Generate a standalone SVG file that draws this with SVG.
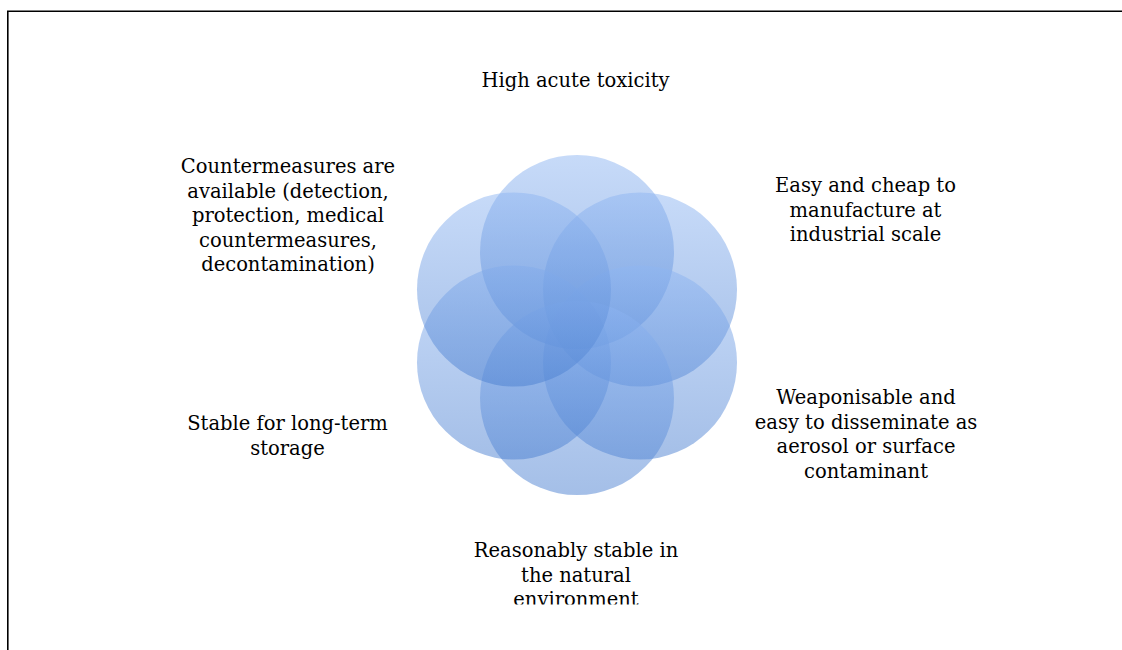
<svg xmlns="http://www.w3.org/2000/svg" width="1122" height="650" viewBox="0 0 1122 650">
  <defs>
    <linearGradient id="cg" x1="0" y1="0" x2="0" y2="1">
      <stop offset="0" stop-color="#8fb6f2"/>
      <stop offset="1" stop-color="#4a7fd0"/>
    </linearGradient>
    <clipPath id="clipBottom">
      <rect x="0" y="0" width="1122" height="604.5"/>
    </clipPath>
  </defs>
  <style>
    .c { fill: url(#cg); fill-opacity: 0.5; }
    .t { font-family: "DejaVu Serif", "Liberation Serif", serif; font-size: 19.5px; fill: #000; text-anchor: middle; }
    .frame { fill: none; stroke: #000; stroke-width: 1.6; }
  </style>
  <rect x="0" y="0" width="1122" height="650" fill="#fff"/>
  <path class="frame" d="M7.8,650 V11.2 H1122"/>

  <g id="circles">
    <g id="circle-top"><circle class="c" cx="577" cy="252" r="97"/></g>
    <g id="circle-upper-right"><circle class="c" cx="640" cy="289.5" r="97"/></g>
    <g id="circle-lower-right"><circle class="c" cx="640" cy="362.5" r="97"/></g>
    <g id="circle-bottom"><circle class="c" cx="577" cy="398" r="97"/></g>
    <g id="circle-lower-left"><circle class="c" cx="514" cy="362.5" r="97"/></g>
    <g id="circle-upper-left"><circle class="c" cx="514" cy="289.5" r="97"/></g>
  </g>

  <g id="connectors"/>

  <g id="label-top">
    <text class="t" x="575.5" y="87">High acute toxicity</text>
  </g>
  <g id="label-upper-right">
    <text class="t" x="865.5" y="192">Easy and cheap to</text>
    <text class="t" x="865.5" y="216.5">manufacture at</text>
    <text class="t" x="865.5" y="241">industrial scale</text>
  </g>
  <g id="label-lower-right">
    <text class="t" x="866" y="404">Weaponisable and</text>
    <text class="t" x="866" y="428.5">easy to disseminate as</text>
    <text class="t" x="866" y="453">aerosol or surface</text>
    <text class="t" x="866" y="477.5">contaminant</text>
  </g>
  <g id="label-bottom" clip-path="url(#clipBottom)">
    <text class="t" x="576" y="557">Reasonably stable in</text>
    <text class="t" x="576" y="581.5">the natural</text>
    <text class="t" x="576" y="606">environment</text>
  </g>
  <g id="label-lower-left">
    <text class="t" x="287.5" y="430">Stable for long-term</text>
    <text class="t" x="287.5" y="454.5">storage</text>
  </g>
  <g id="label-upper-left">
    <text class="t" x="288" y="173">Countermeasures are</text>
    <text class="t" x="288" y="197.5">available (detection,</text>
    <text class="t" x="288" y="222">protection, medical</text>
    <text class="t" x="288" y="246.5">countermeasures,</text>
    <text class="t" x="288" y="271">decontamination)</text>
  </g>
</svg>
